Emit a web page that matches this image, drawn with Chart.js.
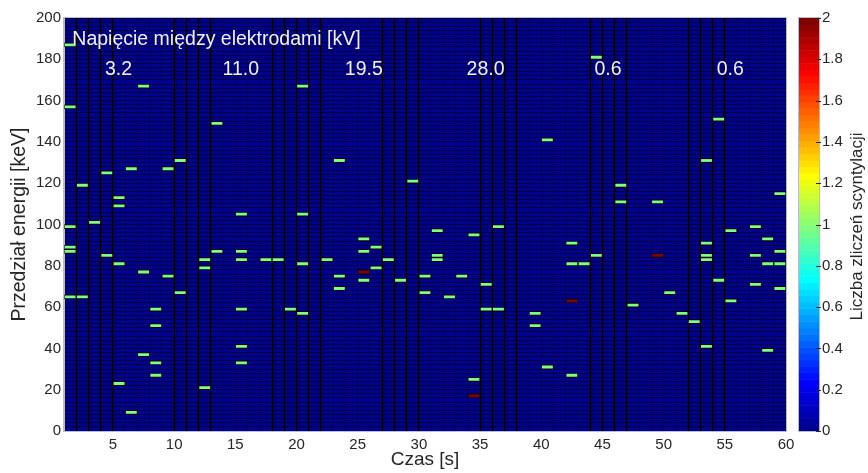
<!DOCTYPE html>
<html lang="pl">
<head>
<meta charset="UTF-8">
<title>Liczba zliczeń scyntylacji</title>
<style>
  html, body { margin: 0; padding: 0; background: #fff; }
  #wrap { width: 868px; height: 473px; }
</style>
</head>
<body>
<div id="wrap"><canvas id="heat"></canvas></div>
<script src="https://cdn.jsdelivr.net/npm/chart.js"></script>
<script>
// one column per second, energy bins of 2 keV (given by bin centre)
const hitTime = [
  1, 1, 1, 1, 1, 1,
  2, 2,
  3,
  4, 4,
  5, 5, 5, 5,
  6, 6,
  7, 7, 7,
  8, 8, 8, 8,
  9, 9,
  10, 10,
  12, 12, 12,
  13, 13,
  15, 15, 15, 15, 15, 15,
  17, 18, 19,
  20, 20, 20, 20,
  22,
  23, 23, 23,
  25, 25, 25, 25,
  26, 26,
  27, 28, 29,
  30, 30,
  31, 31, 31,
  32, 33,
  34, 34, 34,
  35, 35,
  36, 36,
  39, 39,
  40, 40,
  42, 42, 42, 42,
  43,
  44, 44,
  46, 46,
  47,
  49, 49,
  50, 51, 52,
  53, 53, 53, 53, 53,
  54, 54,
  55, 55,
  57, 57, 57,
  58, 58, 58,
  59, 59, 59, 59
];
const hitEnergy = [
  187, 157, 99, 89, 87, 65,
  119, 65,
  101,
  125, 85,
  113, 109, 81, 23,
  127, 9,
  167, 77, 37,
  59, 51, 33, 27,
  127, 75,
  131, 67,
  83, 79, 21,
  149, 87,
  105, 87, 83, 59, 41, 33,
  83, 83, 59,
  167, 105, 81, 57,
  83,
  131, 75, 69,
  93, 87, 77, 73,
  89, 79,
  83, 73, 121,
  75, 67,
  97, 85, 83,
  65, 75,
  95, 25, 17,
  71, 59,
  99, 59,
  57, 51,
  141, 31,
  91, 81, 63, 27,
  81,
  181, 85,
  119, 111,
  61,
  111, 85,
  67, 57, 53,
  131, 91, 85, 83, 41,
  151, 73,
  97, 63,
  99, 85, 71,
  93, 81, 39,
  115, 87, 81, 69
];
const hitCount = [
  1, 1, 1, 1, 1, 1,
  1, 1,
  1,
  1, 1,
  1, 1, 1, 1,
  1, 1,
  1, 1, 1,
  1, 1, 1, 1,
  1, 1,
  1, 1,
  1, 1, 1,
  1, 1,
  1, 1, 1, 1, 1, 1,
  1, 1, 1,
  1, 1, 1, 1,
  1,
  1, 1, 1,
  1, 1, 2, 1,
  1, 1,
  1, 1, 1,
  1, 1,
  1, 1, 1,
  1, 1,
  1, 1, 2,
  1, 1,
  1, 1,
  1, 1,
  1, 1,
  1, 1, 2, 1,
  1,
  1, 1,
  1, 1,
  1,
  1, 2,
  1, 1, 1,
  1, 1, 1, 1, 1,
  1, 1,
  1, 1,
  1, 1, 1,
  1, 1, 1,
  1, 1, 1, 1
];

// voltage notes written over the map
const voltageLabels = ["3.2", "11.0", "19.5", "28.0", "0.6", "0.6"];
const voltageTimes = [5.45, 15.45, 25.5, 35.45, 45.45, 55.45];

const binWidth = 2;
const countMax = 2;
const FONT = "'Liberation Sans', Arial, sans-serif";

// MATLAB jet(64)
function jet(v) {
  let i = Math.ceil(v / countMax * 64) - 1;
  i = Math.max(0, Math.min(63, i));
  const t = (i + 1) / 64;
  const f = (k) => Math.round(255 * Math.max(0, Math.min(1, 1.5 - Math.abs(4 * t - k))));
  return "rgb(" + f(3) + "," + f(2) + "," + f(1) + ")";
}

const cells = hitTime.map((t, i) => ({
  x: t + 0.5,
  y: [hitEnergy[i] - binWidth / 2, hitEnergy[i] + binWidth / 2]
}));

Chart.defaults.font.family = FONT;
Chart.defaults.color = "#262626";

const mapPlugin = {
  id: "mapPlugin",
  beforeDraw(chart) {
    const { ctx, chartArea: a } = chart;
    ctx.save();
    ctx.fillStyle = jet(0);
    ctx.fillRect(a.left, a.top, a.right - a.left, a.bottom - a.top);
    ctx.restore();
  },
  afterDatasetsDraw(chart) {
    const { ctx, chartArea: a } = chart;
    const x = chart.scales.x, y = chart.scales.y;
    ctx.save();
    ctx.fillStyle = "#f2f2f2";
    ctx.font = "19.5px " + FONT;
    ctx.textBaseline = "alphabetic";
    ctx.textAlign = "left";
    ctx.fillText("Napięcie między elektrodami [kV]", x.getPixelForValue(1.68), y.getPixelForValue(186.9));
    ctx.textAlign = "center";
    voltageLabels.forEach((lab, i) => {
      ctx.fillText(lab, x.getPixelForValue(voltageTimes[i]), y.getPixelForValue(172.4));
    });
    // frame
    ctx.strokeStyle = "#b8bccc";
    ctx.lineWidth = 1;
    ctx.strokeRect(a.left - 0.5, a.top - 0.5, a.right - a.left + 1, a.bottom - a.top + 1);
    ctx.restore();
  },
  afterDraw(chart) {
    const { ctx } = chart;
    const c = chart.scales.c;
    const x0 = c.left + 13, w = 20;
    ctx.save();
    for (let i = 0; i < 64; i++) {
      const v0 = i * countMax / 64, v1 = (i + 1) * countMax / 64;
      const yTop = c.getPixelForValue(v1), yBot = c.getPixelForValue(v0);
      ctx.fillStyle = jet(v0 + 1e-6);
      ctx.fillRect(x0, yTop, w, yBot - yTop + 0.5);
    }
    ctx.strokeStyle = "#b8bccc";
    ctx.strokeRect(x0 - 0.5, c.top - 0.5, w + 1, c.bottom - c.top + 1);
    ctx.strokeStyle = "#262626";
    c.ticks.forEach((tk) => {
      const py = Math.round(c.getPixelForValue(tk.value)) + 0.5;
      ctx.beginPath();
      ctx.moveTo(x0 + w - 3, py);
      ctx.lineTo(x0 + w + 2, py);
      ctx.stroke();
    });
    ctx.fillStyle = "#262626";
    ctx.font = "17px " + FONT;
    ctx.textAlign = "center";
    ctx.textBaseline = "middle";
    ctx.translate(857, (c.top + c.bottom) / 2 + 2);
    ctx.rotate(-Math.PI / 2);
    ctx.fillText("Liczba zliczeń scyntylacji", 0, 0);
    ctx.restore();
  }
};

new Chart(document.getElementById("heat"), {
  type: "bar",
  data: {
    datasets: [{
      data: cells,
      backgroundColor: (ctx) => jet(hitCount[ctx.dataIndex]),
      borderColor: "rgba(0,0,0,0.75)",
      borderWidth: 1,
      borderSkipped: false,
      grouped: false,
      barPercentage: 1,
      categoryPercentage: 1
    }]
  },
  options: {
    responsive: true,
    maintainAspectRatio: false,
    animation: false,
    events: [],
    layout: { padding: { top: 18, left: 0, right: 0, bottom: 0 } },
    plugins: { legend: { display: false }, tooltip: { enabled: false } },
    scales: {
      x: {
        type: "linear",
        min: 1,
        max: 60,
        offset: false,
        grid: { offset: false, color: "#000", lineWidth: 1, drawTicks: false },
        border: { color: "#b8bccc" },
        ticks: {
          stepSize: 1,
          autoSkip: false,
          maxRotation: 0,
          padding: 5,
          font: { size: 15 },
          callback: (v) => (v % 5 === 0 ? v : "")
        },
        title: { display: true, text: "Czas [s]", font: { size: 19 }, padding: { top: 0, bottom: 2 } },
        afterFit: (s) => { s.height = 42; }
      },
      y: {
        type: "linear",
        min: 0,
        max: 200,
        grid: { color: "rgba(0,0,0,0.6)", drawTicks: false },
        border: { color: "#b8bccc" },
        ticks: {
          stepSize: binWidth,
          autoSkip: false,
          padding: 3,
          font: { size: 15 },
          callback: (v) => (v % 20 === 0 ? v : "")
        },
        title: { display: true, text: "Przedział energii [keV]", font: { size: 19.5 }, padding: { top: 8, bottom: 0 } },
        afterFit: (s) => { s.width = 64; }
      },
      c: {
        type: "linear",
        position: "right",
        min: 0,
        max: countMax,
        grid: { display: false, drawTicks: true, tickLength: 33 },
        border: { display: false },
        ticks: {
          stepSize: 0.2,
          padding: 3,
          font: { size: 15 },
          callback: (v) => String(+v.toFixed(1))
        },
        afterFit: (s) => { s.width = 82; }
      }
    }
  },
  plugins: [mapPlugin]
});
</script>
</body>
</html>
